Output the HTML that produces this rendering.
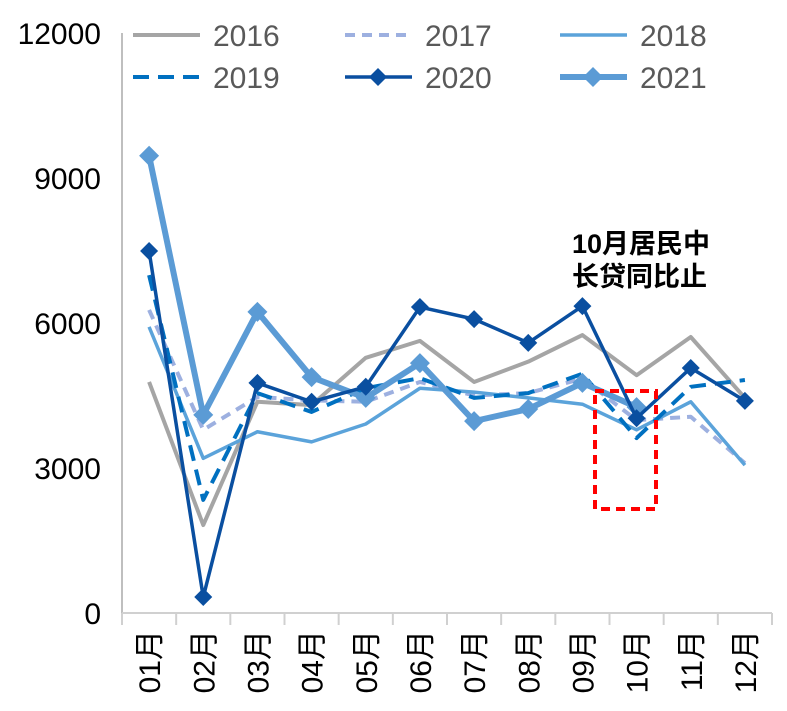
<!DOCTYPE html>
<html><head><meta charset="utf-8">
<style>
html,body{margin:0;padding:0;background:#fff;}
svg{display:block;font-family:"Liberation Sans","Noto Sans CJK SC",sans-serif;}
</style></head>
<body>
<svg id="chart" width="787" height="711" viewBox="0 0 787 711"></svg>
<script>
const categories=["01月","02月","03月","04月","05月","06月","07月","08月","09月","10月","11月","12月"];
const yTicks=[0,3000,6000,9000,12000];
const s2016=[4780,1820,4370,4300,5280,5630,4780,5200,5750,4920,5710,4450];
const s2017=[6270,3790,4470,4400,4370,4780,4500,4550,4850,3990,4060,3100];
const s2018=[5920,3200,3750,3540,3910,4650,4570,4450,4320,3790,4370,3060];
const s2019=[6990,2340,4550,4160,4650,4860,4450,4550,4950,3620,4680,4820];
const s2020=[7490,330,4760,4370,4680,6330,6080,5590,6350,4030,5070,4390];
const s2021=[9460,4100,6230,4880,4450,5170,3970,4220,4760,4260];
const svg=document.getElementById('chart');
const NS='http://www.w3.org/2000/svg';
const L=122,R=772,T=33,B=613,YMAX=12000;
const step=(R-L)/categories.length;
const xS=i=>L+step*(i+0.5);
const yS=v=>B-(v/YMAX)*(B-T);
function mk(tag,attrs,parent){const e=document.createElementNS(NS,tag);for(const k in attrs)e.setAttribute(k,attrs[k]);(parent||svg).appendChild(e);return e;}
const ya=mk('line',{x1:L,y1:T,x2:L,y2:B,stroke:'#bfbfbf','stroke-width':2});


const xa=mk('line',{x1:L,y1:B,x2:R,y2:B,stroke:'#d0d0d0','stroke-width':2});


yTicks.forEach(v=>{
  const t=mk('text',{x:101,y:yS(v)+11,'text-anchor':'end','font-size':30,fill:'#000'});
  t.textContent=v;
  
  
});
for(let i=0;i<=categories.length;i++){
  const tk=mk('line',{x1:L+step*i,y1:B,x2:L+step*i,y2:B+12,stroke:'#d0d0d0','stroke-width':2});
  
  
}
categories.forEach((c,i)=>{
  const x=xS(i)+11,y=630;
  const t=mk('text',{x:x,y:y,'text-anchor':'end','font-size':30,fill:'#000',transform:`rotate(-90 ${x} ${y})`});
  t.textContent=c;
  
  
});
function diamond(x,y,r,color,parent){
  return mk('polygon',{points:`${x},${y-r} ${x+r},${y} ${x},${y+r} ${x-r},${y}`,fill:color},parent);
}
function series(name,data,color,width,dash,marker){
  const g=mk('g',{});
  
  
  const pts=data.map((v,i)=>xS(i)+','+yS(v)).join(' ');
  const attrs={points:pts,fill:'none',stroke:color,'stroke-width':width,'stroke-linejoin':'round'};
  if(dash)attrs['stroke-dasharray']=dash;
  mk('polyline',attrs,g);
  if(marker){data.forEach((v,i)=>{
    const d=diamond(xS(i),yS(v),marker,color,g);
    
    
  });}
}
series('2016',s2016,'#a5a5a5',4,null,0);
series('2017',s2017,'#9db0e0',4,'10,7',0);
series('2018',s2018,'#5ba3da',3.5,null,0);
series('2019',s2019,'#0070c0',4,'16,9',0);
series('2021',s2021,'#5b9bd5',6,null,10);
series('2020',s2020,'#0a4fa0',3.5,null,9);
const leg=[["2016",'#a5a5a5',null,0,4,133,35],["2017",'#9db0e0','10,7',0,4,345,35],["2018",'#5ba3da',null,0,3.5,560,35],
["2019",'#0070c0','16,9',0,4,133,77],["2020",'#0a4fa0',null,9,3.5,345,77],["2021",'#5b9bd5',null,10,6,560,77]];
leg.forEach(l=>{
  const g=mk('g',{});
  
  
  const a={x1:l[5],y1:l[6],x2:l[5]+67,y2:l[6],stroke:l[1],'stroke-width':l[4]};
  if(l[2])a['stroke-dasharray']=l[2];
  mk('line',a,g);
  if(l[3])diamond(l[5]+33,l[6],l[3],l[1],g);
  const t=mk('text',{x:l[5]+80,y:l[6]+11,'font-size':30,fill:'#595959'},g);
  t.textContent=l[0];
});
const a1=mk('text',{x:572,y:253,'font-size':27,'font-weight':'bold',fill:'#000'});
a1.textContent='10月居民中';


const a2=mk('text',{x:572,y:286,'font-size':27,'font-weight':'bold',fill:'#000'});
a2.textContent='长贷同比止';


const box=mk('rect',{x:595,y:391,width:61,height:118,fill:'none',stroke:'#ff0000','stroke-width':4,'stroke-dasharray':'9,6'});


</script>
</body></html>
